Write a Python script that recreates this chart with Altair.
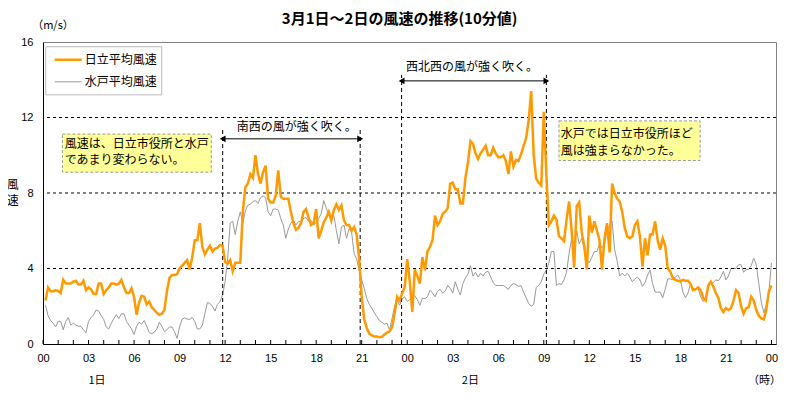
import altair as alt
import pandas as pd

# 10-minute values from 1日 00:10 to 2日 24:00 (one row per hour)
hitachi_rows = [
    [2.3, 3.0, 2.8, 2.8, 2.85],
    [2.8, 2.7, 3.4, 3.2, 3.2, 3.2],
    [3.3, 3.35, 3.15, 3.15, 3.35, 2.85],
    [3.0, 2.9, 2.65, 2.65, 3.2, 3.2],
    [2.65, 2.85, 3.0, 3.2, 3.2, 3.15],
    [3.2, 3.4, 3.0, 2.7, 2.7, 2.95],
    [2.5, 1.55, 2.2, 2.55, 2.5, 2.1],
    [2.25, 1.95, 1.8, 1.65, 1.55, 1.6],
    [1.8, 2.8, 3.5, 3.65, 3.65, 3.7],
    [4.0, 4.15, 4.3, 4.45, 3.95, 4.6],
    [5.5, 5.5, 6.4, 5.15, 4.75, 5.0],
    [5.2, 4.9, 5.05, 5.1, 5.25, 5.2],
    [4.35, 4.25, 4.45, 3.85, 4.3, 4.3],
    [4.3, 7.0, 8.3, 8.5, 9.0, 8.8],
    [10.0, 9.0, 8.5, 9.1, 9.45, 7.7],
    [7.5, 7.5, 7.85, 9.2, 7.8, 7.7],
    [7.7, 7.7, 7.0, 6.4, 6.05, 6.15],
    [6.4, 7.0, 7.15, 6.7, 6.3, 6.4],
    [7.15, 5.6, 6.0, 6.45, 6.7, 7.0],
    [6.55, 7.1, 7.4, 7.1, 7.35, 6.55],
    [6.3, 6.3, 6.0, 6.2, 5.8, 4.5],
    [2.5, 1.3, 0.85, 0.55, 0.45, 0.4],
    [0.4, 0.36, 0.38, 0.5, 0.6, 0.67],
    [0.9, 1.6, 2.5, 2.3, 2.7, 3.0],
    [4.5, 3.3, 1.7, 3.95, 3.6, 3.2],
    [4.6, 3.9, 4.9, 5.15, 5.5, 6.8],
    [6.3, 6.5, 6.9, 7.0, 7.2, 8.5],
    [8.55, 8.2, 8.2, 7.45, 7.45, 8.8],
    [9.6, 10.75, 10.6, 10.1, 9.8, 10.1],
    [10.3, 10.5, 10.0, 10.0, 10.4, 10.1],
    [9.9, 9.9, 10.0, 9.7, 9.0, 10.2],
    [9.4, 9.75, 9.7, 10.05, 10.5, 10.9],
    [11.8, 13.4, 10.0, 8.75, 8.55, 8.4],
    [12.3, 9.0, 6.3, 6.5, 6.8, 6.6],
    [5.7, 5.6, 5.45, 6.6, 7.55, 6.0],
    [4.05, 7.3, 7.5, 5.9, 5.2, 3.95],
    [6.8, 5.9, 6.5, 6.0, 5.5, 3.95],
    [5.6, 6.4, 4.85, 8.5, 8.0, 7.7],
    [7.55, 7.0, 6.15, 5.7, 5.6, 5.7],
    [6.3, 6.5, 5.7, 4.1, 5.6, 4.7],
    [5.8, 5.8, 6.5, 5.5, 5.0, 5.6],
    [5.2, 4.0, 3.85, 3.5, 3.4, 3.35],
    [3.3, 3.4, 3.35, 3.35, 3.2, 2.85],
    [2.9, 3.0, 2.85, 2.45, 2.3, 3.1],
    [3.3, 3.05, 2.7, 2.45, 1.9, 1.7],
    [1.9, 1.8, 1.9, 2.3, 2.85, 2.7],
    [2.0, 1.6, 1.9, 1.95, 2.5, 2.3],
    [1.8, 1.5, 1.35, 1.3, 1.85, 2.8],
    [3.1],
]

mito_rows = [
    [2.05, 1.5, 1.25, 1.1, 0.9],
    [1.2, 1.2, 0.75, 1.2, 1.4, 1.0],
    [1.1, 1.0, 0.94, 0.94, 0.75, 0.6],
    [1.2, 1.4, 1.55, 1.8, 1.75, 1.5],
    [1.3, 0.9, 0.8, 1.1, 1.35, 1.55],
    [1.35, 1.6, 1.6, 1.2, 1.0, 0.8],
    [0.5, 0.94, 1.15, 1.05, 1.25, 0.95],
    [0.6, 0.55, 0.62, 0.8, 1.15, 0.95],
    [0.65, 0.75, 0.9, 0.9, 0.65, 0.3],
    [0.9, 1.32, 1.38, 1.32, 1.3, 1.4],
    [1.2, 0.8, 0.8, 1.0, 1.6, 2.2],
    [2.15, 2.0, 1.75, 2.1, 2.25, 2.6],
    [3.3, 4.5, 6.4, 6.5, 5.8, 6.5],
    [7.0, 6.4, 7.05, 7.35, 7.4, 7.55],
    [7.6, 7.45, 7.75, 7.85, 7.75, 7.0],
    [6.8, 7.15, 7.15, 7.1, 6.65, 6.3],
    [5.6, 6.1, 6.4, 6.55, 6.3, 6.5],
    [6.45, 6.65, 6.7, 6.5, 6.55, 6.3],
    [6.45, 6.65, 6.9, 7.6, 7.2, 6.8],
    [6.8, 6.8, 6.0, 5.3, 6.2, 6.3],
    [5.6, 6.1, 5.95, 4.8, 4.5, 3.9],
    [3.4, 2.95, 2.4, 2.1, 1.9, 1.65],
    [1.45, 1.25, 1.15, 1.05, 1.1, 0.75],
    [1.35, 2.0, 2.35, 2.05, 2.4, 2.5],
    [2.25, 2.35, 2.6, 2.55, 2.35, 2.05],
    [2.43, 2.4, 2.5, 2.85, 2.7, 2.5],
    [2.8, 2.9, 2.7, 2.8, 3.1, 2.95],
    [2.7, 3.3, 2.9, 2.6, 3.2, 3.5],
    [3.7, 4.15, 3.6, 3.8, 3.55, 3.75],
    [3.6, 3.8, 3.85, 3.55, 3.25, 3.1],
    [3.1, 3.1, 3.1, 3.0, 2.9, 3.1],
    [3.2, 3.15, 3.05, 3.1, 2.75, 2.45],
    [2.15, 2.0, 2.1, 3.0, 3.1, 3.3],
    [3.7, 3.9, 4.3, 4.9, 4.9, 3.1],
    [3.2, 3.15, 3.4, 3.8, 4.8, 5.6],
    [5.3, 6.0, 5.3, 5.6, 5.0, 4.5],
    [4.3, 4.6, 4.9, 4.9, 5.3, 5.1],
    [5.3, 6.0, 6.25, 6.5, 5.0, 4.4],
    [3.6, 3.75, 3.6, 3.75, 3.55, 3.3],
    [3.45, 3.55, 3.4, 3.05, 3.25, 3.65],
    [3.9, 3.2, 2.75, 2.75, 2.75, 2.45],
    [2.9, 3.45, 3.45, 3.4, 3.55, 3.65],
    [3.4, 2.75, 2.45, 2.7, 3.2, 2.95],
    [2.85, 2.95, 2.5, 2.25, 2.45, 3.0],
    [3.3, 3.25, 3.4, 3.35, 3.55, 3.85],
    [3.4, 3.6, 4.0, 4.0, 4.0, 4.2],
    [4.2, 3.8, 3.95, 3.95, 4.15, 4.55],
    [4.2, 3.2, 2.2, 1.65, 2.1, 2.75],
    [4.3],
]

series_names = ["日立平均風速", "水戸平均風速"]
series_colors = ["#FF9900", "#999999"]
y_ticks = [0, 4, 8, 12, 16]
x_label_hours = list(range(0, 49, 3))
grid_levels = [4, 8, 12]
title_text = "3月1日～2日の風速の推移(10分値)"

hitachi = [v for row in hitachi_rows for v in row]
mito = [v for row in mito_rows for v in row]
times = [i / 6 for i in range(1, len(hitachi) + 1)]

# annotation positions (hours, m/s)
periods = [
    {"start": 11.84, "end": 20.9, "top": 11.45, "arrow": 10.87,
     "label": "南西の風が強く吹く。", "lx": 16.72, "ly": 11.48},
    {"start": 23.63, "end": 33.17, "top": 14.26, "arrow": 13.94,
     "label": "西北西の風が強く吹く。", "lx": 28.27, "ly": 14.7},
]
notes = [
    {"x": 1.28, "x2": 11.09, "y": 11.12, "y2": 9.10, "tx": 1.43,
     "lines": ["風速は、日立市役所と水戸", "であまり変わらない。"], "ty": [10.6, 9.75]},
    {"x": 34.0, "x2": 43.3, "y": 11.82, "y2": 9.72, "tx": 34.12,
     "lines": ["水戸では日立市役所ほど", "風は強まらなかった。"], "ty": [11.15, 10.2]},
]

JP = "Noto Sans CJK JP"
xs = alt.Scale(domain=[0, 48.3], nice=False, zero=False)
ys = alt.Scale(domain=[0, 16], nice=False, zero=False)

x_axis = alt.Axis(values=x_label_hours, ticks=False, grid=False, title=None,
                  labelExpr="(datum.value % 24 < 10 ? '0' : '') + (datum.value % 24)",
                  labelFont="Liberation Sans", labelFontSize=11, labelColor="black",
                  labelPadding=8, domainColor="black", labelFlush=False)
y_axis = alt.Axis(values=y_ticks, ticks=False, grid=False, title=None,
                  labelFont="Liberation Sans", labelFontSize=11, labelColor="black",
                  labelPadding=10, domainColor="black")


def X(f):
    return alt.X(f, scale=xs, axis=x_axis)


def Y(f):
    return alt.Y(f, scale=ys, axis=y_axis)


df_h = pd.DataFrame({"t": times, "v": hitachi})
df_m = pd.DataFrame({"t": times, "v": mito})

mito_line = alt.Chart(df_m).mark_line(color=series_colors[1], strokeWidth=1).encode(
    x=X("t:Q"), y=Y("v:Q"))
hitachi_line = alt.Chart(df_h).mark_line(color=series_colors[0], strokeWidth=2.5).encode(
    x=X("t:Q"), y=Y("v:Q"))

grid = alt.Chart(pd.DataFrame({"g": grid_levels})).mark_rule(
    color="black", strokeDash=[3, 3], strokeWidth=1
).encode(y=Y("g:Q"))

hour_ticks = alt.Chart(pd.DataFrame({"h": list(range(0, 49)), "y0": 0.0, "y1": 0.21})).mark_rule(
    color="black", strokeWidth=1
).encode(x=X("h:Q"), y=Y("y0:Q"), y2="y1:Q")

pdf = pd.DataFrame(periods)
vlines = alt.Chart(pd.DataFrame(
    {"t": [p[k] for p in periods for k in ("start", "end")],
     "top": [p["top"] for p in periods for _ in (0, 1)],
     "y0": 0.0}
)).mark_rule(color="black", strokeDash=[4, 3], strokeWidth=1).encode(
    x=X("t:Q"), y=Y("y0:Q"), y2="top:Q")
arrows = alt.Chart(pdf).mark_rule(color="black", strokeWidth=1).encode(
    x=X("start:Q"), x2="end:Q", y=Y("arrow:Q"))
heads_l = alt.Chart(pdf).mark_point(shape="triangle-left", filled=True, color="black",
                                    size=45, opacity=1, dx=6).encode(
    x=X("start:Q"), y=Y("arrow:Q"))
heads_r = alt.Chart(pdf).mark_point(shape="triangle-right", filled=True, color="black",
                                    size=45, opacity=1, dx=-6).encode(
    x=X("end:Q"), y=Y("arrow:Q"))
period_text = alt.Chart(pdf).mark_text(font=JP, fontSize=12, color="black",
                                       align="center", baseline="middle").encode(
    x=X("lx:Q"), y=Y("ly:Q"), text="label:N")

ndf = pd.DataFrame(notes)[["x", "x2", "y", "y2"]]
note_boxes = alt.Chart(ndf).mark_rect(fill="#FFFF99", stroke="#999999",
                                      strokeDash=[3, 2], strokeWidth=1).encode(
    x=X("x:Q"), x2="x2:Q", y=Y("y:Q"), y2="y2:Q")
ntext = pd.DataFrame({
    "tx": [n["tx"] for n in notes for _ in n["lines"]],
    "ty": [y for n in notes for y in n["ty"]],
    "txt": [l for n in notes for l in n["lines"]],
})
note_text = alt.Chart(ntext).mark_text(font=JP, fontSize=12, color="black",
                                       align="left", baseline="middle").encode(
    x=X("tx:Q"), y=Y("ty:Q"), text="txt:N")

# legend
leg_box = alt.Chart(pd.DataFrame({"x": [0.18], "x2": [7.82], "y": [15.75], "y2": [13.2]})).mark_rect(
    fill="white", stroke="#BBBBBB", strokeWidth=1).encode(
    x=X("x:Q"), x2="x2:Q", y=Y("y:Q"), y2="y2:Q")
leg_df = pd.DataFrame({"name": series_names, "color": series_colors,
                       "w": [2.5, 1.0], "ly": [15.06, 13.89],
                       "lx0": 0.77, "lx1": 2.55, "tx": 2.75})
leg_lines = alt.Chart(leg_df).mark_rule().encode(
    x=X("lx0:Q"), x2="lx1:Q", y=Y("ly:Q"),
    color=alt.Color("color:N", scale=None),
    strokeWidth=alt.StrokeWidth("w:Q", scale=None),
)
leg_text = alt.Chart(leg_df).mark_text(font=JP, fontSize=12, color="black",
                                       align="left", baseline="middle").encode(
    x=X("tx:Q"), y=Y("ly:Q"), text="name:N")

# extra texts around the plot (title, units, day labels)
misc = pd.DataFrame({
    "x": [0.66, 3.56, 28.16, 47.54],
    "y": [16.86, -1.96, -1.96, -1.96],
    "txt": ["（m/s）", "1日", "2日", "（時）"],
})
misc_text = alt.Chart(misc).mark_text(font=JP, fontSize=11, color="black",
                                      align="center", baseline="middle").encode(
    x=X("x:Q"), y=Y("y:Q"), text="txt:N")
title_df = pd.DataFrame({"x": [23.5], "y": [17.22], "txt": [title_text]})
title_mark = alt.Chart(title_df).mark_text(font=JP, fontSize=15, fontWeight="bold",
                                           color="black", align="center",
                                           baseline="middle").encode(
    x=X("x:Q"), y=Y("y:Q"), text="txt:N")
ylab_df = pd.DataFrame({"x": [-2.0, -2.0], "y": [8.4, 7.55], "txt": ["風", "速"]})
ylab = alt.Chart(ylab_df).mark_text(
    font=JP, fontSize=12, color="black", align="center", baseline="middle").encode(
    x=X("x:Q"), y=Y("y:Q"), text="txt:N")

chart = alt.layer(
    mito_line, grid, hour_ticks, vlines, arrows, heads_l, heads_r, period_text,
    note_boxes, note_text, leg_box, leg_lines, leg_text, misc_text, title_mark, ylab,
    hitachi_line,
).properties(
    width=733, height=302,
    padding={"left": 35, "top": 34, "right": 10, "bottom": 52},
    autosize="none",
    background="white",
).configure_view(stroke="#808080", strokeWidth=1)

chart.save("out.html", embed_options={"renderer": "svg", "actions": False})
